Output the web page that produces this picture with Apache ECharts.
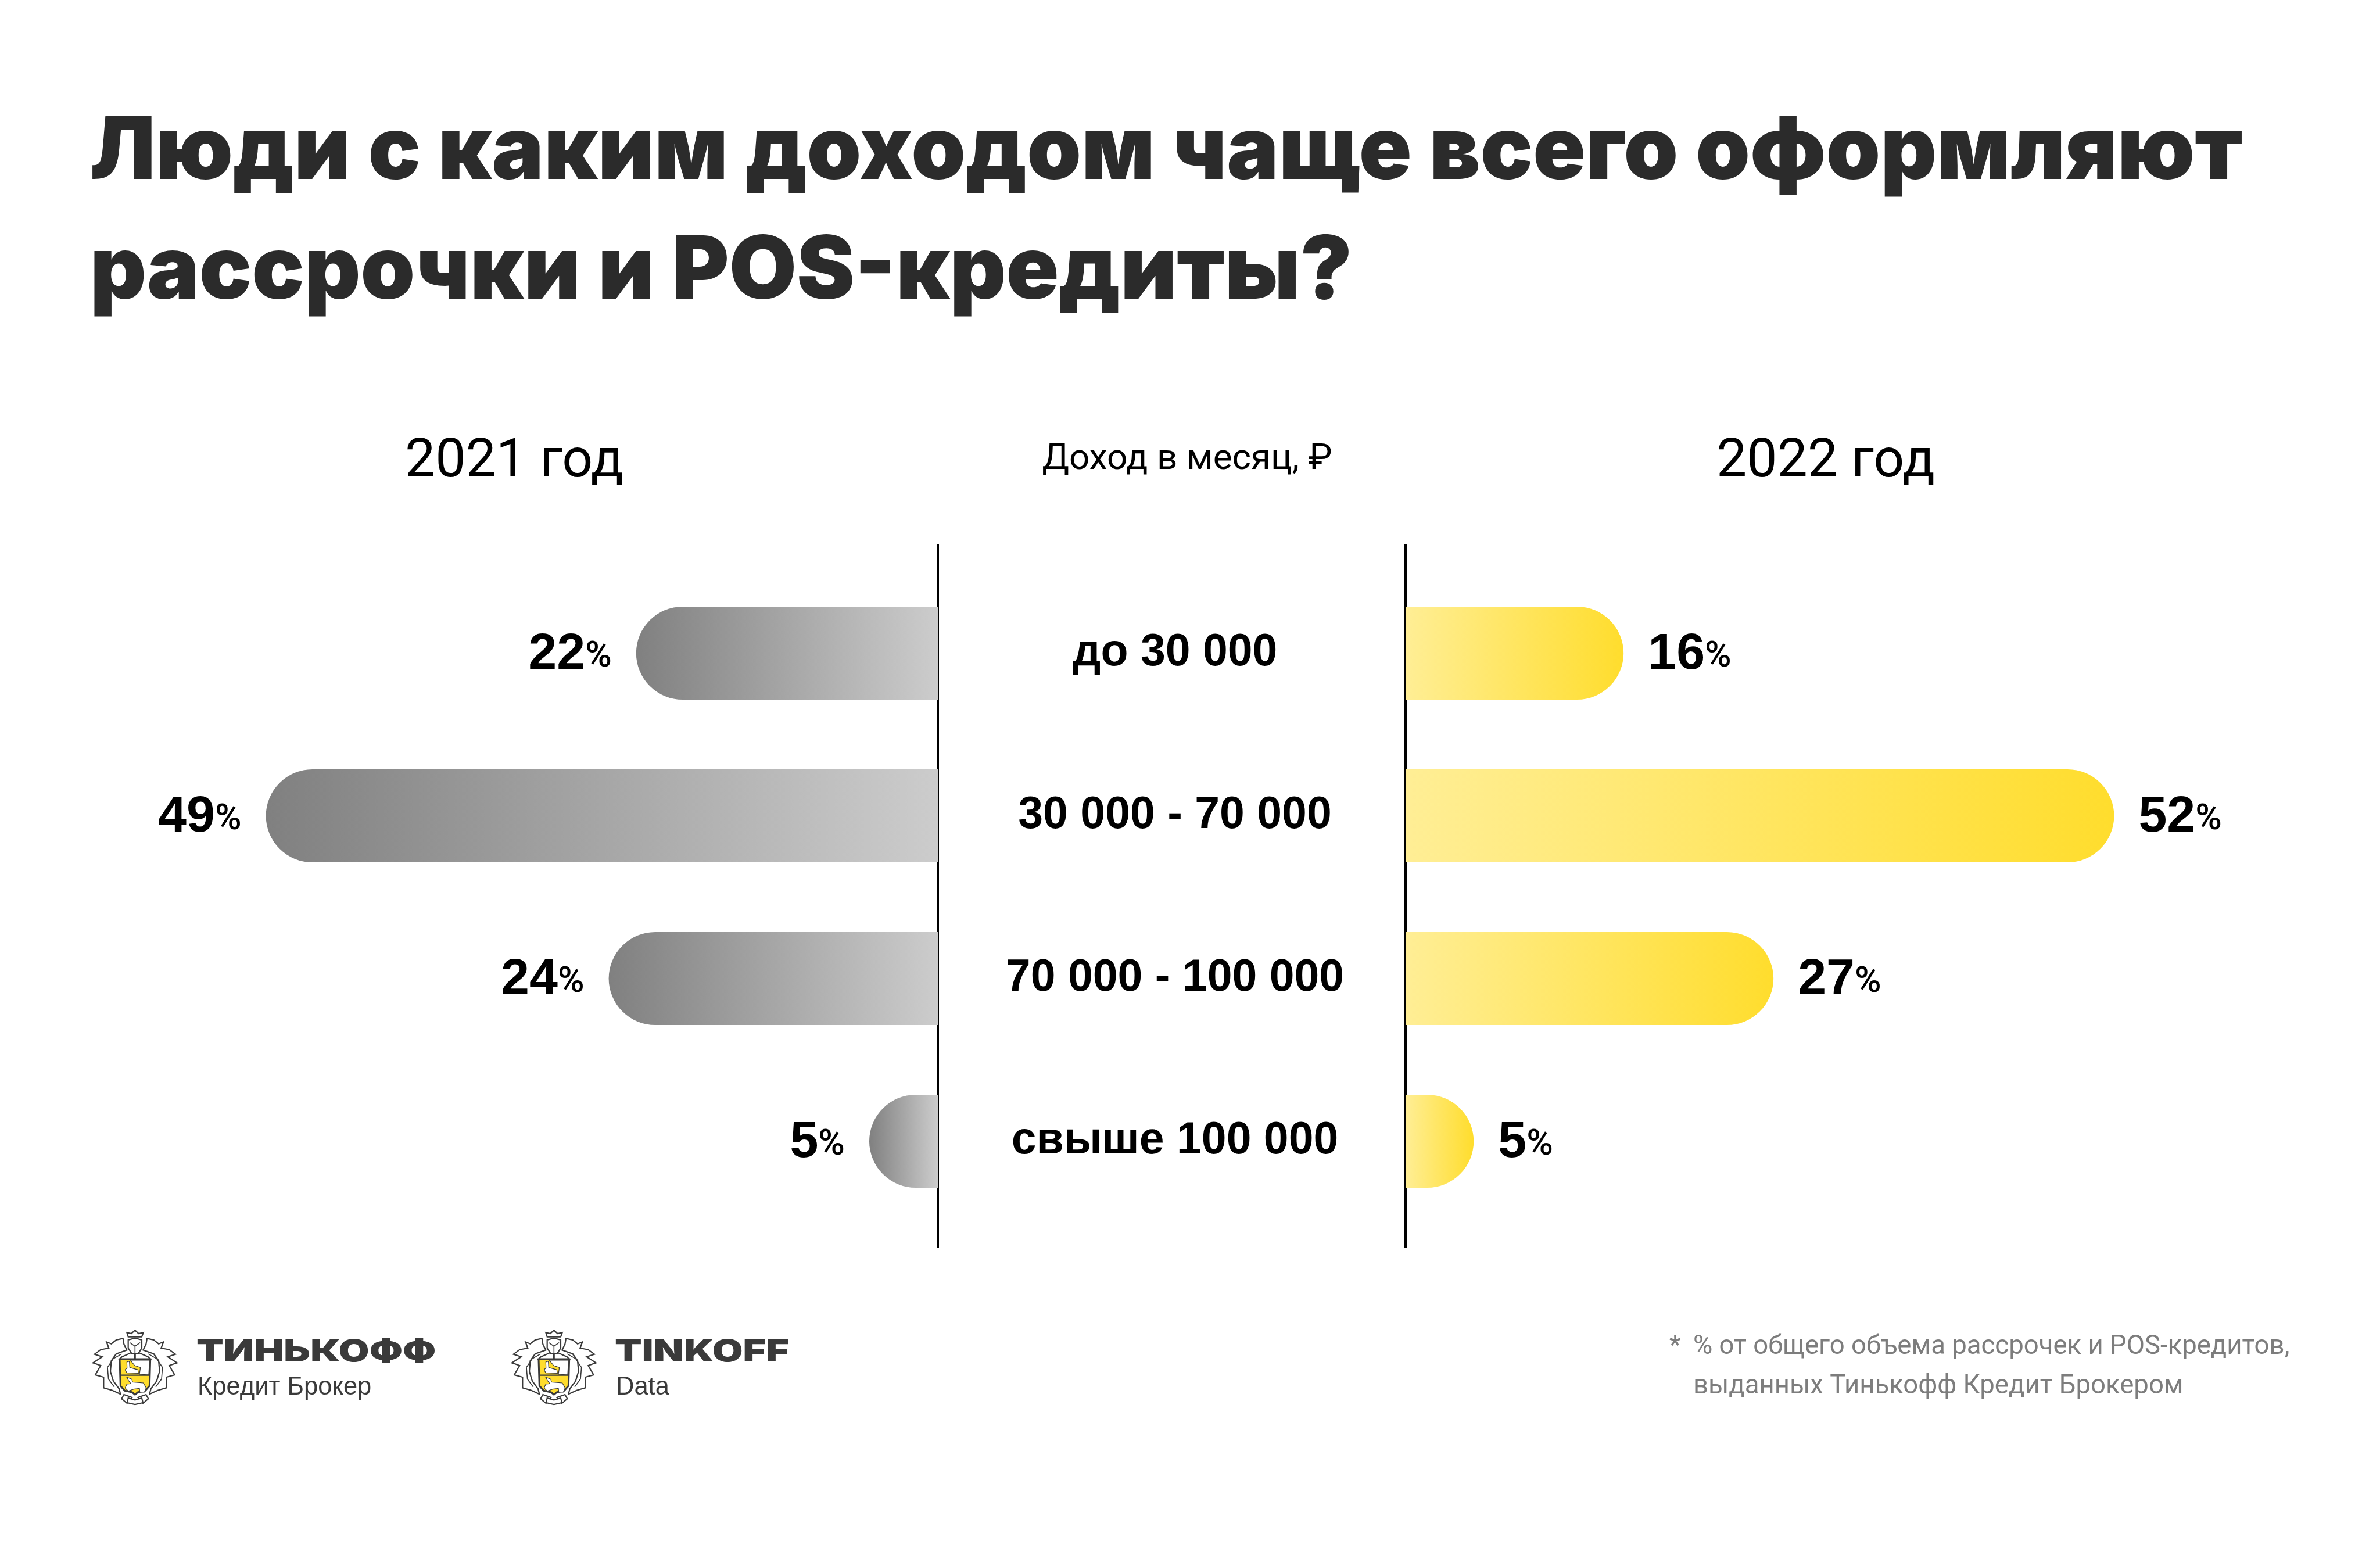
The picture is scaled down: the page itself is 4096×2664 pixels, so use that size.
<!DOCTYPE html>
<html><head><meta charset="utf-8">
<style>html,body{margin:0;padding:0;background:#fff}#c{width:4096px;height:2664px}</style>
<script src="https://cdn.jsdelivr.net/npm/echarts@6/dist/echarts.min.js"></script>
</head><body><div id="c"></div>
<script>
const categories = ['до 30 000','30 000 - 70 000','70 000 - 100 000','свыше 100 000'];
const values2021 = [22,49,24,5];
const values2022 = [16,52,27,5];
const titleLines = ['Люди с каким доходом чаще всего оформляют','рассрочки и POS-кредиты?'];
const headLeft='2021 год', headMid='Доход в месяц, ₽', headRight='2022 год';
const noteLines=['% от общего объема рассрочек и POS-кредитов,','выданных Тинькофф Кредит Брокером'];
const FONT='Inter', ARIAL='"Liberation Sans"', ROBOTO='Roboto';
const DARK='#3a3a3a';

function crest(ox,oy){
  const s=1/3;
  const P=pts=>pts.map(p=>[ox+p[0]*s,oy+p[1]*s]);
  const M=pts=>pts.map(p=>[494-p[0],p[1]]);
  const leaf=[[205,160],[190,130],[185,100],[150,108],[125,128],[100,118],[112,150],[70,158],[38,182],[78,195],[30,226],[70,240],[42,288],[85,300],[85,355],[130,368],[172,388],[165,360],[135,320],[120,270],[125,215],[150,180],[205,160]];
  const vein=[[178,180],[135,205],[105,250],[110,310],[140,350]];
  const shape=(pts,fill,sw)=>({type:'polygon',shape:{points:P(pts)},style:{fill:fill,stroke:DARK,lineWidth:sw===undefined?2.2:sw},silent:true});
  const line=(pts,sw)=>({type:'polyline',shape:{points:P(pts)},style:{fill:'none',stroke:DARK,lineWidth:sw||1.6},silent:true});
  const shield=[[168,207],[326,207],[322,345],[300,370],[262,378],[247,390],[232,378],[194,370],[172,345]];
  return [
    shape(leaf,'#fff'),shape(M(leaf),'#fff'),line(vein),line(M(vein)),
    shape([[180,195],[232,172],[262,172],[314,195],[326,207],[168,207]],'#fff'),
    shape([[205,70],[228,75],[247,58],[266,75],[290,70],[282,92],[212,92]],'#fff'),
    shape([[212,108],[247,98],[282,108],[282,150],[264,178],[230,178],[212,150]],'#fff'),
    line([[220,122],[247,140],[274,122]]),line([[247,140],[247,175]]),
    shape(shield,'#FFDD2D',3),
    {type:'polygon',shape:{points:P([[224,213],[322,213],[318,288],[270,285],[275,250],[245,240]])},style:{fill:'#fff',stroke:DARK,lineWidth:1.2},silent:true},
    {type:'polygon',shape:{points:P([[205,222],[218,218],[220,250],[262,262],[265,280],[205,278],[196,262],[206,252]])},style:{fill:'#fff',stroke:DARK,lineWidth:1.2},silent:true},
    line([[172,290],[322,290]],2.4),
    {type:'polygon',shape:{points:P([[204,300],[230,310],[235,325],[290,330],[305,355],[295,378],[272,378],[270,358],[240,362],[212,372],[196,356],[205,336],[226,334],[214,318]])},style:{fill:'#fff',stroke:DARK,lineWidth:1.2},silent:true},
    {type:'text',style:{x:ox+247*s,y:oy+195*s,text:'T',font:'900 16px '+FONT,fill:DARK,align:'center',verticalAlign:'middle'},silent:true},
    shape([[190,390],[232,405],[206,435],[178,412]],'#fff'),
    shape([[304,390],[262,405],[288,435],[316,412]],'#fff'),
    shape([[212,408],[247,418],[282,408],[288,432],[247,441],[206,432]],'#fff')
  ];
}
function stretched(text,x,y,size,sx,weight,fill){
  return {type:'text',x:x,y:y,scaleX:sx,style:{x:0,y:0,text:text,font:weight+' '+size+'px '+FONT,fill:fill,align:'left',verticalAlign:'middle'},silent:true};
}
const titleStyle={fontFamily:FONT,fontWeight:900,fontSize:150,color:'#2b2b2b'};
const headStyle={fontFamily:ROBOTO,fontWeight:400,fontSize:93,color:'#000'};
const noteStyle={fontFamily:ROBOTO,fontWeight:400,fontSize:45.5,color:'#7d7d7d'};
const valueLabel=pos=>({show:true,position:pos,distance:42,offset:[0,3],formatter:'{n|{c}}{p|%}',
  rich:{n:{fontFamily:ARIAL,fontWeight:700,fontSize:88,color:'#000'},p:{fontFamily:ROBOTO,fontWeight:500,fontSize:62,color:'#000',padding:[8,0,0,0]}}});
const grad=(a,b)=>({type:'linear',x:0,y:0,x2:1,y2:0,colorStops:[{offset:0,color:a},{offset:1,color:b}]});

const chart=echarts.init(document.getElementById('c'),null,{renderer:'canvas',width:4096,height:2664});
chart.setOption({
  animation:false,backgroundColor:'#fff',
  title:[
    {text:titleLines[0],left:155,top:188,padding:0,textStyle:titleStyle},
    {text:titleLines[1],left:155,top:394,padding:0,textStyle:titleStyle},
    {text:headLeft,left:885,top:750,padding:0,textAlign:'center',textStyle:headStyle},
    {text:headMid,left:2043,top:760,padding:0,textAlign:'center',textStyle:{fontFamily:ROBOTO,fontWeight:400,fontSize:62,color:'#000'}},
    {text:headRight,left:3142,top:750,padding:0,textAlign:'center',textStyle:headStyle},
    {text:'*',left:2873,top:2296,padding:0,textStyle:noteStyle},
    {text:noteLines[0],left:2914,top:2296,padding:0,textStyle:noteStyle},
    {text:noteLines[1],left:2914,top:2364,padding:0,textStyle:noteStyle}
  ],
  grid:[
    {left:198,width:1416,top:984,height:1120},
    {left:2419,width:1407,top:984,height:1120}
  ],
  xAxis:[
    {gridIndex:0,type:'value',min:0,max:60,inverse:true,show:false},
    {gridIndex:1,type:'value',min:0,max:60,show:false}
  ],
  yAxis:[
    {gridIndex:0,type:'category',data:categories,inverse:true,show:false},
    {gridIndex:1,type:'category',data:categories,inverse:true,position:'left',
     axisLine:{show:false},axisTick:{show:false},
     axisLabel:{margin:397,align:'center',fontFamily:ARIAL,fontWeight:700,fontSize:77,color:'#000',padding:[3,0,0,0]}}
  ],
  series:[
    {type:'bar',xAxisIndex:0,yAxisIndex:0,data:values2021,barWidth:160,
     itemStyle:{color:grad('#808080','#CCCCCC'),borderRadius:[80,0,0,80]},label:valueLabel('left')},
    {type:'bar',xAxisIndex:1,yAxisIndex:1,data:values2022,barWidth:160,
     itemStyle:{color:grad('#FFEE95','#FFDD2D'),borderRadius:[0,80,80,0]},label:valueLabel('right')}
  ],
  graphic:[
    {type:'line',shape:{x1:1614,y1:936,x2:1614,y2:2147},style:{stroke:'#000',lineWidth:4},silent:true},
    {type:'line',shape:{x1:2419,y1:936,x2:2419,y2:2147},style:{stroke:'#000',lineWidth:4},silent:true},
    ...crest(150,2270),
    ...crest(871,2270),
    stretched('ТИНЬКОФФ',338,2327,52,1.31,900,DARK),
    {type:'text',style:{x:340,y:2388,text:'Кредит Брокер',font:'400 43.5px '+ARIAL,fill:DARK,align:'left',verticalAlign:'middle'},silent:true},
    stretched('TINKOFF',1058,2327,52,1.31,900,DARK),
    {type:'text',style:{x:1060,y:2388,text:'Data',font:'400 43.5px '+ARIAL,fill:DARK,align:'left',verticalAlign:'middle'},silent:true}
  ]
});
</script></body></html>
